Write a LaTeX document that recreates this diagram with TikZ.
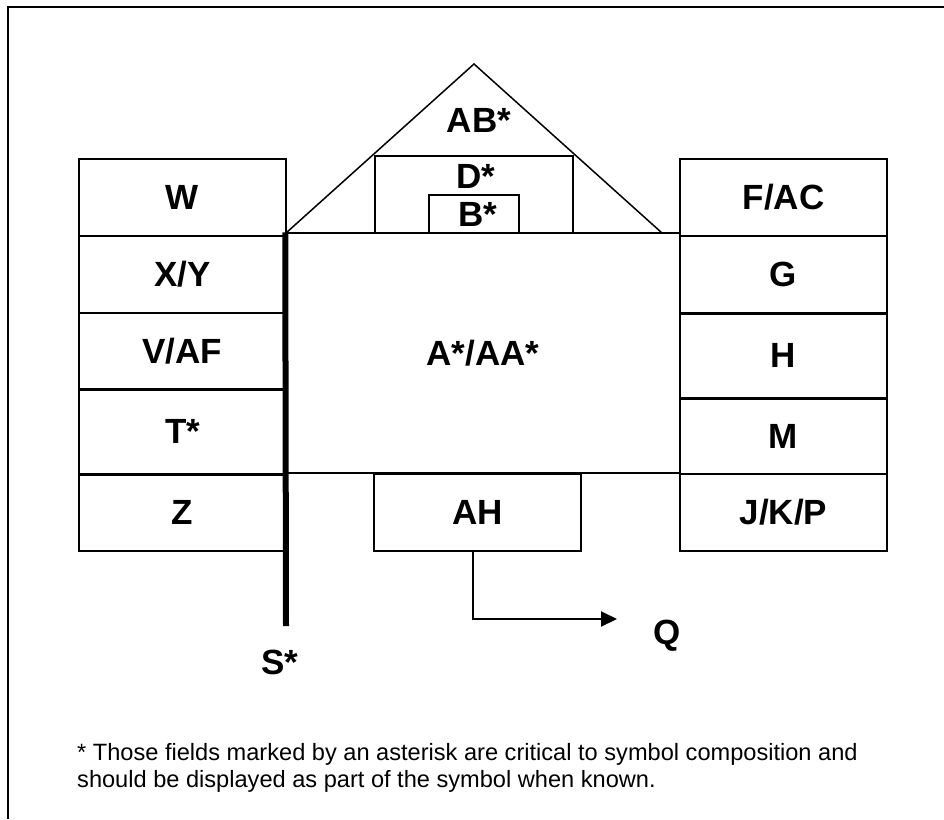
\documentclass[tikz,border=0pt]{standalone}
\usepackage{fontspec}
\setmainfont{Liberation Sans}
\usetikzlibrary{arrows.meta}
\begin{document}
\begin{tikzpicture}[x=1pt,y=-1pt,
  cell/.style={draw,line width=1.5pt,inner sep=0pt,font=\bfseries\fontsize{35}{40}\selectfont},
  lbl/.style={inner sep=0pt,font=\bfseries\fontsize{35}{40}\selectfont},
  thickb/.style={line width=3pt},
  thin/.style={line width=1.5pt},
  note/.style={inner sep=0pt,anchor=base west,font=\fontsize{23.6}{27}\selectfont}]
\useasboundingbox (0,0) rectangle (944,819);
% frame
\draw[line width=2pt] (8,819) -- (8,7) -- (944,7);
% left column
\node[cell,minimum width=207pt,minimum height=77pt] (W)   at (182.5,197.5) {W};
\node[cell,minimum width=207pt,minimum height=77pt] (XY)  at (182.5,274.5) {X/Y};
\node[cell,minimum width=207pt,minimum height=76pt] (VAF) at (182.5,351) {V/AF};
\node[cell,minimum width=207pt,minimum height=85pt] (T)   at (182.5,431.5) {T*};
\node[cell,minimum width=207pt,minimum height=77pt] (Z)   at (182.5,512.5) {Z};
\draw[thickb] (VAF.south west) -- (VAF.south east);
\draw[thickb] (T.south west) -- (T.south east);
% right column
\node[cell,minimum width=207pt,minimum height=77pt] (FAC) at (783.5,197.5) {F/AC};
\node[cell,minimum width=207pt,minimum height=77pt] (G)   at (783.5,274.5) {G};
\node[cell,minimum width=207pt,minimum height=85pt] (H)   at (783.5,355.5) {H};
\node[cell,minimum width=207pt,minimum height=76pt] (M)   at (783.5,436) {M};
\node[cell,minimum width=207pt,minimum height=77pt] (JKP) at (783.5,512.5) {J/K/P};
\draw[thickb] (G.south west) -- (G.south east);
\draw[thickb] (H.south west) -- (H.south east);
% main body
\node[cell,minimum width=394pt,minimum height=240pt] (A) at (483,353) {A*/AA*};
% roof
\coordinate (apex) at (474,64);
\coordinate (roofL) at (286,233);
\coordinate (roofR) at (662,233);
\draw[thin,line join=miter] (roofL) -- (apex) -- (roofR);
\node[lbl] (AB) at (479,120) {AB*};
\draw[thin] (375,233) rectangle (573,156);
\node[lbl] (D) at (476,176) {D*};
\draw[thin] (429,233) rectangle (519,195);
\node[lbl] (B) at (478,214.5) {B*};
% AH
\node[cell,minimum width=207pt,minimum height=77pt] (AH) at (477.5,512.5) {AH};
% S line
\coordinate (Send) at (286,626);
\draw[line width=6pt] (A.north west) -- (Send);
\node[lbl] (S) at (280,662.5) {S*};
% Q arrow
\coordinate (Qtip) at (617,619);
\draw[line width=2pt,-{Triangle[length=16pt,width=15pt]}] ([xshift=-4.5pt]AH.south) |- (Qtip);
\node[lbl] (Q) at (667.5,636) {Q};
% footnote
\node[note] (n1) at (77,760) {* Those fields marked by an asterisk are critical to symbol composition and};
\node[note] (n2) at (77,787) {should be displayed as part of the symbol when known.};
\end{tikzpicture}
\end{document}
